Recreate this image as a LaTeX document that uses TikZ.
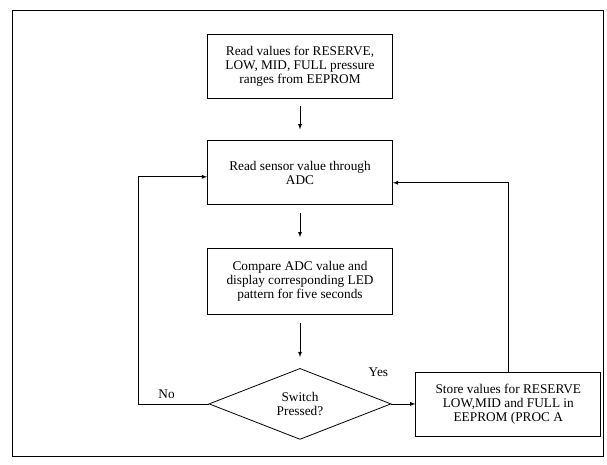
\documentclass[tikz,border=0pt]{standalone}
\usepackage{fontspec}
\setmainfont{Liberation Serif}
\usetikzlibrary{positioning,shapes.geometric,arrows}

\begin{document}
\begin{tikzpicture}[x=1pt,y=1pt,>=latex,
   procbox/.style={draw,line width=0.8pt,minimum width=185pt,minimum height=64pt,inner sep=2pt,align=center,font=\fontsize{13.3}{14}\selectfont},
   decbox/.style={draw,diamond,line width=0.8pt,minimum width=182pt,minimum height=71pt,inner sep=0pt,align=center,font=\fontsize{13.3}{14}\selectfont},
   lbl/.style={font=\fontsize{13.3}{14}\selectfont,inner sep=1pt},
   flow/.style={->,line width=0.8pt},
   gapflow/.style={flow,shorten <=8pt,shorten >=11pt},
   node distance=42pt]
   \useasboundingbox (0,0) rectangle (607,-464);
   \draw[line width=1pt] (12,-10) rectangle (603,-456);
	\node[procbox] (rd) at (300,-66) {Read values for RESERVE,\\LOW, MID, FULL pressure\\ranges from EEPROM};
	\node[procbox,below=of rd] (adc) {Read sensor value through\\ADC};
	\node[procbox,minimum height=66pt,below=43pt of adc] (cmp) {Compare ADC value and\\display corresponding LED\\pattern for five seconds};
	\node[decbox,below=53pt of cmp] (sw) {Switch\\Pressed?};
	\node[procbox,right=24pt of sw] (st) {Store values for RESERVE\\LOW,MID and FULL in\\EEPROM (PROC A};
	\draw[gapflow] (rd) -- (adc);
	\draw[gapflow] (adc) -- (cmp);
	\draw[gapflow] (cmp) -- (sw);
	\draw[flow] (sw.west) -- node[lbl,pos=0.6,above=4pt] (no) {No} ++(-70,0) |- ([yshift=-4pt]adc.west);
	\draw[flow] (sw.east) -- (st.west);
	\node[lbl] (yes) at ([xshift=-13pt,yshift=32pt]sw.east) {Yes};
	\draw[flow] (st.north) |- ([yshift=-10pt]adc.east);
\end{tikzpicture}
\end{document}
